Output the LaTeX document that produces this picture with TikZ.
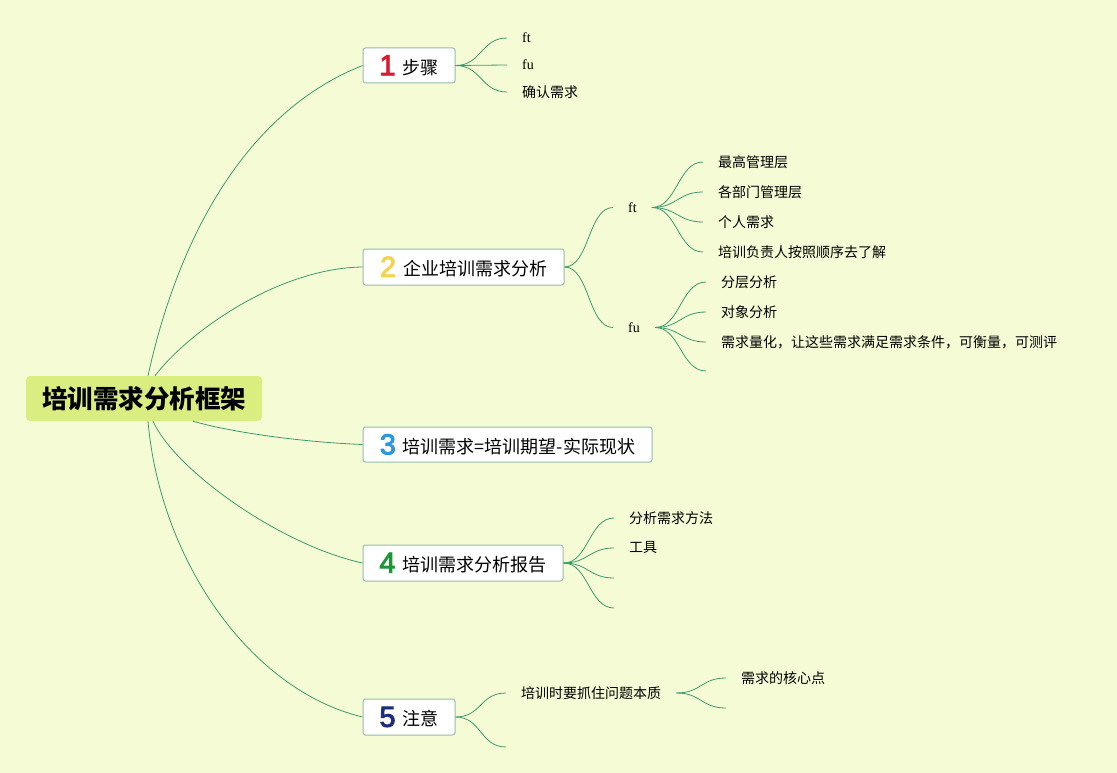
\documentclass[tikz,border=0pt]{standalone}
\usepackage{fontspec}
\setmainfont{Liberation Serif}
\newfontfamily\cjk{Noto Sans CJK SC}
\newfontfamily\digitfont[FakeBold=3]{Liberation Sans}
\usetikzlibrary{calc}
\definecolor{bgc}{HTML}{F5FCD5}
\definecolor{rootfill}{HTML}{D9ED80}
\definecolor{boxline}{HTML}{98BCA8}
\definecolor{linec}{HTML}{3A9A70}
\definecolor{numA}{HTML}{D91A2F}
\definecolor{numB}{HTML}{F3D34A}
\definecolor{numC}{HTML}{2C97DE}
\definecolor{numD}{HTML}{1E9637}
\definecolor{numE}{HTML}{1E2C7C}
\newcommand\topicnum[2]{\raisebox{-1pt}{\digitfont\fontsize{29}{29}\selectfont\color{#1}#2}\hspace{7pt}}
\tikzset{
  rootnode/.style={fill=rootfill, rounded corners=4pt, minimum width=236pt, minimum height=45pt, inner sep=0pt, font=\cjk\bfseries\fontsize{25.5}{28}\selectfont},
  topic/.style={draw=boxline, fill=white, rounded corners=2.5pt, line width=1pt, minimum height=35pt, inner sep=0pt, font=\cjk\fontsize{18}{21}\selectfont},
  leaf/.style={anchor=west, inner xsep=15pt, inner ysep=2pt, font=\cjk\fontsize{14}{16}\selectfont},
  latleaf/.style={anchor=west, inner xsep=15pt, inner ysep=2pt, font=\rmfamily\fontsize{14}{16}\selectfont},
  conn/.style={draw=linec, line width=0.8pt},
}
\begin{document}
\begin{tikzpicture}[x=1pt,y=-1pt]
\fill[bgc] (0,0) rectangle (1117,773);
\useasboundingbox (0,0) rectangle (1117,773);

% root
\node[rootnode] (root) at (144,398.5) {培训需求分析框架};

% main topics
\node[topic, minimum width=92pt] (t1) at (409,65.5) {\topicnum{numA}{1}步骤};
\node[topic, minimum width=201pt, minimum height=36pt] (t2) at (463.5,267) {\topicnum{numB}{2}企业培训需求分析};
\node[topic, minimum width=289pt] (t3) at (507.5,444.5) {\topicnum{numC}{3}培训需求=培训期望-实际现状};
\node[topic, minimum width=200pt, minimum height=36pt] (t4) at (463,563) {\topicnum{numD}{4}培训需求分析报告};
\node[topic, minimum width=92pt, minimum height=36pt] (t5) at (409,717) {\topicnum{numE}{5}注意};

% root connectors
\draw[conn] ($(root.north)+(4,0)$) .. controls (180,230) and (250,110) .. (t1.west);
\draw[conn] ($(root.north)+(11,0)$) .. controls (190,330) and (280,268) .. (t2.west);
\draw[conn] ($(root.south)+(49,0)$) .. controls (230,432) and (300,442) .. (t3.west);
\draw[conn] ($(root.south)+(9,0)$) .. controls (175,470) and (280,545) .. (t4.west);
\draw[conn] ($(root.south)+(4,0)$) .. controls (160,560) and (250,690) .. (t5.west);

% topic 1 children
\node[latleaf] (a1) at (507,38) {ft};
\node[latleaf] (a2) at (507,65) {fu};
\node[leaf] (a3) at (507,92) {确认需求};
\foreach \n in {a1,a2,a3}
  \draw[conn] (t1.east) .. controls +(26,0) and +(-26,0) .. (\n.west);

% topic 2 children
\node[latleaf] (b1) at (613,207.5) {ft};
\node[latleaf] (b2) at (613,327.5) {fu};
\foreach \n in {b1,b2}
  \draw[conn] (t2.east) .. controls +(25,0) and +(-25,0) .. (\n.west);

\node[leaf] (c1) at (703,162) {最高管理层};
\node[leaf] (c2) at (703,192) {各部门管理层};
\node[leaf] (c3) at (703,222) {个人需求};
\node[leaf] (c4) at (703,252) {培训负责人按照顺序去了解};
\foreach \n in {c1,c2,c3,c4}
  \draw[conn] (b1.east) .. controls +(25,0) and +(-25,0) .. (\n.west);

\node[leaf] (d1) at (706,282) {分层分析};
\node[leaf] (d2) at (706,312) {对象分析};
\node[leaf] (d3) at (706,342) {需求量化，让这些需求满足需求条件，可衡量，可测评};
\coordinate (d4) at (706,371);
\foreach \n in {d1,d2,d3}
  \draw[conn] (b2.east) .. controls +(25,0) and +(-25,0) .. (\n.west);
\draw[conn] (b2.east) .. controls +(25,0) and +(-25,0) .. (d4);

% topic 4 children
\node[leaf] (g1) at (614,518) {分析需求方法};
\node[leaf] (g2) at (614,548) {工具};
\coordinate (g3) at (614,578);
\coordinate (g4) at (614,608);
\foreach \n in {g1,g2}
  \draw[conn] (t4.east) .. controls +(25,0) and +(-25,0) .. (\n.west);
\foreach \n in {g3,g4}
  \draw[conn] (t4.east) .. controls +(25,0) and +(-25,0) .. (\n);

% topic 5 children
\node[leaf] (e1) at (506,693) {培训时要抓住问题本质};
\coordinate (e2) at (506,747);
\draw[conn] (t5.east) .. controls +(26,0) and +(-26,0) .. (e1.west);
\draw[conn] (t5.east) .. controls +(26,0) and +(-26,0) .. (e2);

\node[leaf] (f1) at (726,678) {需求的核心点};
\coordinate (f2) at (726,708);
\draw[conn] (e1.east) .. controls +(25,0) and +(-25,0) .. (f1.west);
\draw[conn] (e1.east) .. controls +(25,0) and +(-25,0) .. (f2);
\end{tikzpicture}
\end{document}
